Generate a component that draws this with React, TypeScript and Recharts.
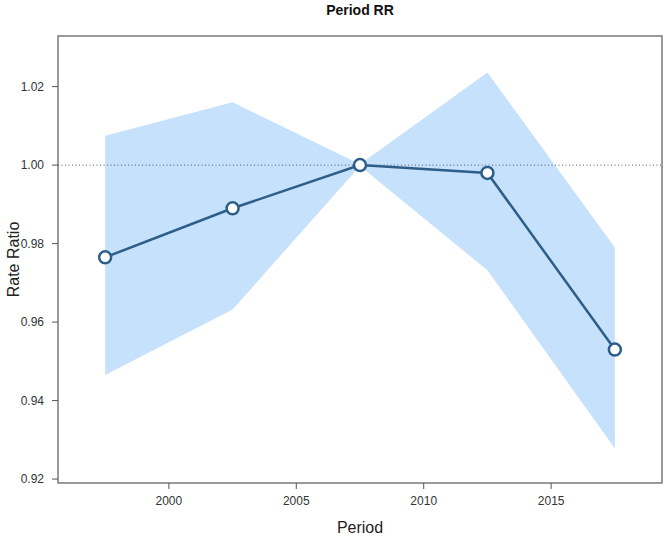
import React from "react";
import {
  ComposedChart,
  Area,
  Line,
  XAxis,
  YAxis,
  ReferenceLine,
  ReferenceArea,
} from "recharts";

const periods = [1997.5, 2002.5, 2007.5, 2012.5, 2017.5];
const rateRatio = [0.9765, 0.989, 1.0, 0.998, 0.953];
const lowerCI = [0.9465, 0.9632, 0.9998, 0.9732, 0.9278];
const upperCI = [1.0075, 1.016, 1.0002, 1.0236, 0.979];

const xTicks = [2000, 2005, 2010, 2015];
const yTicks = [0.92, 0.94, 0.96, 0.98, 1.0, 1.02];

const xDomain: [number, number] = [1995.65, 2019.35];
const yDomain: [number, number] = [0.919, 1.0329];

const data = periods.map((p, i) => ({
  period: p,
  rr: rateRatio[i],
  ci: [lowerCI[i], upperCI[i]],
}));

const FONT = "'Liberation Sans', Arial, Helvetica, sans-serif";
const LINE = "#2d5e8a";
const BAND = "#c6e1fb";
const FRAME = "#7a7a7a";

const YLabel = (props: any) => {
  const { viewBox } = props;
  const cy = viewBox.y + viewBox.height / 2;
  return (
    <text
      x={13}
      y={cy}
      transform={`rotate(-90, 13, ${cy})`}
      textAnchor="middle"
      dominantBaseline="central"
      fontSize={16}
      fontFamily={FONT}
      fill="#222"
    >
      Rate Ratio
    </text>
  );
};

const XLabel = (props: any) => {
  const { viewBox } = props;
  const cx = viewBox.x + viewBox.width / 2;
  return (
    <text
      x={cx}
      y={527}
      textAnchor="middle"
      dominantBaseline="central"
      fontSize={16}
      fontFamily={FONT}
      fill="#222"
    >
      Period
    </text>
  );
};

export default function App() {
  const tickStyle = { fontSize: 12, fill: "#333", fontFamily: FONT };
  return (
    <div style={{ position: "absolute", left: 0, top: 0, width: 665, height: 539, background: "#fff" }}>
      <div
        style={{
          position: "absolute",
          left: 58,
          width: 604,
          top: 2,
          textAlign: "center",
          fontFamily: FONT,
          fontWeight: "bold",
          fontSize: 14,
          color: "#111",
        }}
      >
        Period RR
      </div>
      <ComposedChart
        width={665}
        height={539}
        data={data}
        margin={{ top: 36, right: 3, left: 0, bottom: 0 }}
      >
        <XAxis
          dataKey="period"
          type="number"
          domain={xDomain}
          ticks={xTicks}
          allowDataOverflow
          height={56}
          tick={tickStyle}
          tickSize={6}
          tickMargin={7}
          tickLine={{ stroke: "#555" }}
          axisLine={false}
          label={<XLabel />}
        />
        <YAxis
          type="number"
          domain={yDomain}
          ticks={yTicks}
          allowDataOverflow
          width={58}
          tick={tickStyle}
          tickSize={6}
          tickMargin={8}
          tickLine={{ stroke: "#555" }}
          tickFormatter={(v: number) => v.toFixed(2)}
          axisLine={false}
          label={<YLabel />}
        />
        <Area
          dataKey="ci"
          stroke="none"
          fill={BAND}
          fillOpacity={1}
          isAnimationActive={false}
          activeDot={false}
        />
        <ReferenceLine y={1} stroke="#555" strokeWidth={1} strokeDasharray="1 2.5" />
        <Line
          dataKey="rr"
          stroke={LINE}
          strokeWidth={2.5}
          dot={{ r: 6, fill: "#fff", stroke: LINE, strokeWidth: 2.5 }}
          activeDot={false}
          isAnimationActive={false}
        />
        <ReferenceArea
          x1={xDomain[0]}
          x2={xDomain[1]}
          y1={yDomain[0]}
          y2={yDomain[1]}
          fill="none"
          stroke={FRAME}
          strokeWidth={1.5}
          ifOverflow="visible"
        />
      </ComposedChart>
    </div>
  );
}
